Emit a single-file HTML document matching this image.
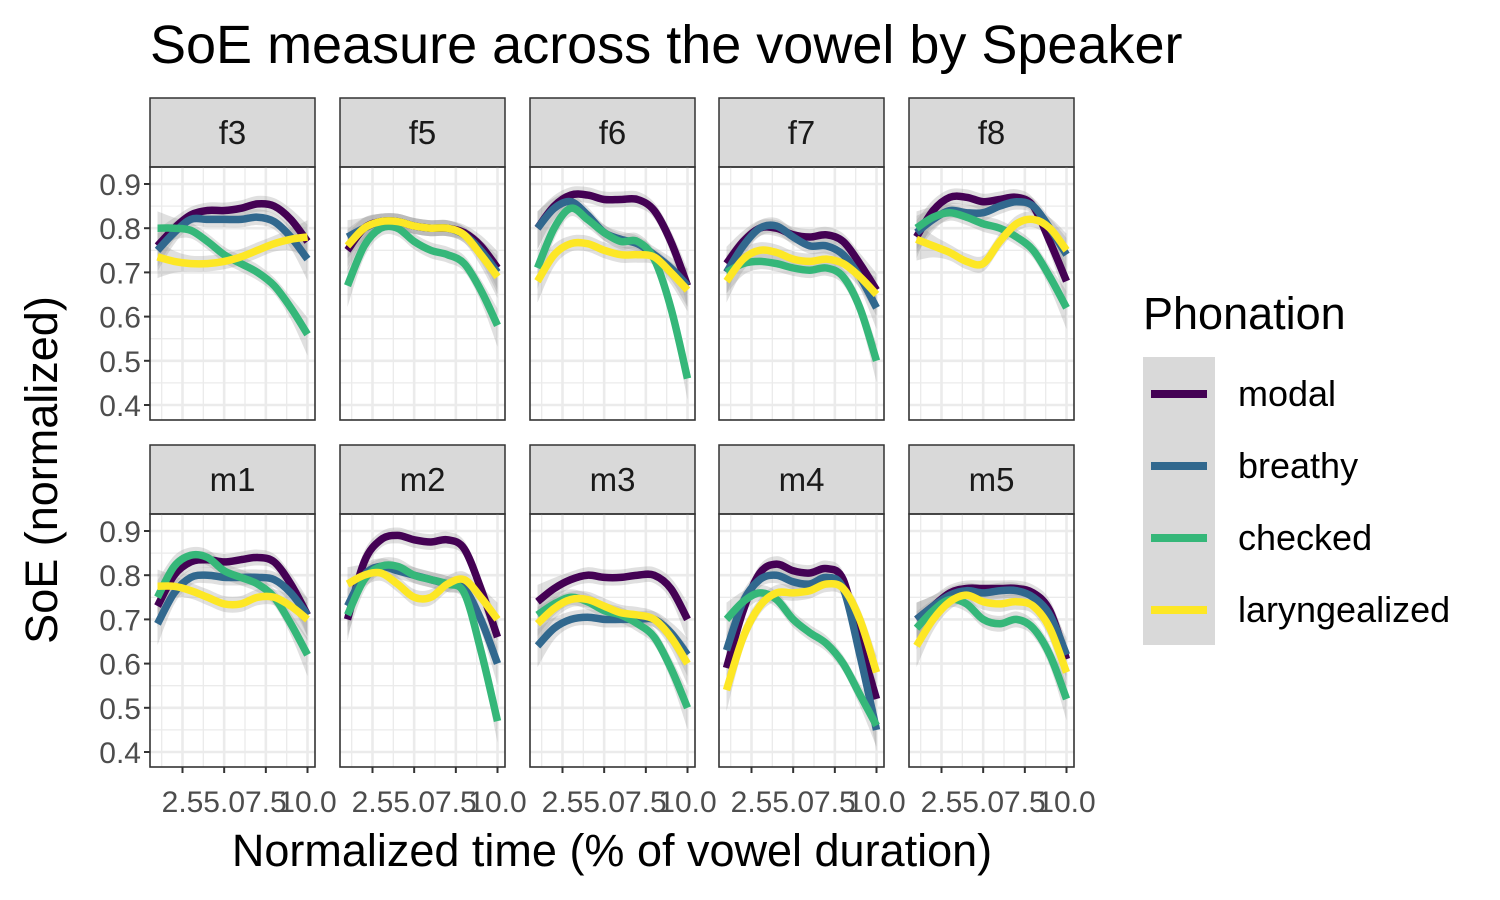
<!DOCTYPE html>
<html><head><meta charset="utf-8"><style>
body{margin:0;background:#fff;}
svg{display:block;font-family:"Liberation Sans",sans-serif;}
</style></head><body>
<svg id="chart" width="1500" height="900" viewBox="0 0 1500 900">
<text x="150" y="63" font-size="54" fill="#000">SoE measure across the vowel by Speaker</text>
<text x="612" y="866" font-size="45" text-anchor="middle" fill="#000">Normalized time (% of vowel duration)</text>
<text transform="translate(57,470) rotate(-90)" font-size="45" text-anchor="middle" fill="#000">SoE (normalized)</text>
<g id="panels"></g>
<g>
<text x="1143" y="329" font-size="45" fill="#000">Phonation</text>
<rect x="1143" y="357" width="72" height="288" fill="#d9d9d9"/>
<line x1="1151" x2="1207" y1="394" y2="394" stroke="#440154" stroke-width="8"/>
<line x1="1151" x2="1207" y1="466" y2="466" stroke="#31688e" stroke-width="8"/>
<line x1="1151" x2="1207" y1="538" y2="538" stroke="#35b779" stroke-width="8"/>
<line x1="1151" x2="1207" y1="610" y2="610" stroke="#fde725" stroke-width="8"/>
<text x="1238" y="406" font-size="36" fill="#000">modal</text>
<text x="1238" y="478" font-size="36" fill="#000">breathy</text>
<text x="1238" y="550" font-size="36" fill="#000">checked</text>
<text x="1238" y="622" font-size="36" fill="#000">laryngealized</text>
</g>
</svg>
<script>
const speakers = ["f3","f5","f6","f7","f8","m1","m2","m3","m4","m5"];
const timePoints = [1,2,3,4,5,6,7,8,9,10];
const phonations = ["modal","breathy","checked","laryngealized"];
const yTicks = [0.4,0.5,0.6,0.7,0.8,0.9];
const xTicks = [2.5,5.0,7.5,10.0];
const xTickLabels = ["2.5","5.0","7.5","10.0"];
const modal = {
 f3:[0.76,0.80,0.83,0.84,0.84,0.845,0.855,0.85,0.82,0.77],
 f5:[0.75,0.80,0.815,0.815,0.805,0.80,0.80,0.79,0.76,0.71],
 f6:[0.80,0.85,0.875,0.875,0.865,0.865,0.865,0.84,0.77,0.67],
 f7:[0.72,0.77,0.80,0.80,0.785,0.78,0.785,0.77,0.72,0.66],
 f8:[0.78,0.84,0.87,0.87,0.86,0.865,0.87,0.85,0.77,0.68],
 m1:[0.73,0.80,0.83,0.835,0.83,0.835,0.84,0.83,0.78,0.71],
 m2:[0.70,0.83,0.88,0.89,0.88,0.875,0.88,0.86,0.77,0.66],
 m3:[0.74,0.77,0.79,0.80,0.795,0.795,0.80,0.80,0.77,0.70],
 m4:[0.59,0.72,0.805,0.825,0.81,0.805,0.815,0.79,0.65,0.52],
 m5:[0.70,0.73,0.76,0.77,0.77,0.77,0.77,0.76,0.72,0.61]};
const breathy = {
 f3:[0.75,0.79,0.82,0.82,0.82,0.82,0.825,0.815,0.78,0.73],
 f5:[0.78,0.80,0.815,0.815,0.805,0.80,0.80,0.785,0.75,0.70],
 f6:[0.80,0.845,0.86,0.83,0.79,0.775,0.765,0.74,0.71,0.67],
 f7:[0.70,0.76,0.80,0.805,0.78,0.76,0.76,0.74,0.69,0.62],
 f8:[0.79,0.82,0.84,0.835,0.835,0.85,0.86,0.85,0.80,0.74],
 m1:[0.69,0.76,0.795,0.80,0.795,0.795,0.795,0.79,0.76,0.71],
 m2:[0.73,0.80,0.82,0.81,0.80,0.79,0.78,0.77,0.70,0.60],
 m3:[0.64,0.68,0.70,0.705,0.70,0.70,0.70,0.70,0.67,0.62],
 m4:[0.63,0.74,0.79,0.80,0.785,0.78,0.795,0.77,0.62,0.45],
 m5:[0.70,0.73,0.755,0.765,0.76,0.765,0.765,0.75,0.71,0.62]};
const checked = {
 f3:[0.80,0.80,0.795,0.77,0.74,0.72,0.70,0.67,0.62,0.56],
 f5:[0.67,0.76,0.80,0.80,0.77,0.75,0.74,0.72,0.66,0.58],
 f6:[0.71,0.80,0.845,0.82,0.79,0.77,0.77,0.73,0.62,0.46],
 f7:[0.70,0.72,0.725,0.72,0.71,0.705,0.71,0.69,0.62,0.50],
 f8:[0.80,0.825,0.835,0.825,0.81,0.80,0.78,0.75,0.69,0.62],
 m1:[0.75,0.82,0.845,0.84,0.81,0.795,0.78,0.75,0.69,0.62],
 m2:[0.71,0.79,0.82,0.82,0.80,0.79,0.78,0.76,0.63,0.47],
 m3:[0.71,0.735,0.75,0.74,0.72,0.71,0.69,0.66,0.59,0.50],
 m4:[0.70,0.74,0.76,0.745,0.70,0.67,0.645,0.60,0.53,0.46],
 m5:[0.68,0.72,0.745,0.735,0.70,0.69,0.70,0.68,0.62,0.52]};
const laryngealized = {
 f3:[0.735,0.725,0.72,0.72,0.725,0.735,0.75,0.765,0.775,0.78],
 f5:[0.76,0.80,0.815,0.815,0.805,0.80,0.80,0.785,0.74,0.69],
 f6:[0.68,0.74,0.765,0.765,0.75,0.74,0.74,0.735,0.70,0.66],
 f7:[0.68,0.73,0.75,0.745,0.73,0.725,0.73,0.72,0.69,0.65],
 f8:[0.775,0.76,0.745,0.725,0.72,0.77,0.81,0.82,0.80,0.75],
 m1:[0.775,0.775,0.765,0.75,0.735,0.735,0.75,0.75,0.73,0.70],
 m2:[0.78,0.80,0.805,0.78,0.75,0.75,0.78,0.79,0.75,0.70],
 m3:[0.69,0.725,0.745,0.745,0.73,0.715,0.71,0.70,0.66,0.60],
 m4:[0.54,0.66,0.73,0.76,0.76,0.765,0.78,0.77,0.70,0.58],
 m5:[0.64,0.70,0.74,0.755,0.74,0.735,0.74,0.73,0.68,0.58]};
const seriesData = {modal, breathy, checked, laryngealized};
const colors = {modal:"#440154",breathy:"#31688e",checked:"#35b779",laryngealized:"#fde725"};

const NS="http://www.w3.org/2000/svg";
const root=document.getElementById('panels');
const panelLefts=[150,340,530,719,909];
const PW=165;
const rows=[{stripTop:98,top:167,bottom:420},{stripTop:445,top:514,bottom:767}];
const xMin=0.55,xMax=10.45, yTop=0.9, yBot=0.4;
function mk(tag,attrs,parent){const e=document.createElementNS(NS,tag);for(const k in attrs)e.setAttribute(k,attrs[k]);parent.appendChild(e);return e;}
function smoothPath(pts){
 let d="M"+pts[0][0].toFixed(1)+","+pts[0][1].toFixed(1);
 for(let i=0;i<pts.length-1;i++){
  const p0=pts[i-1]||pts[i],p1=pts[i],p2=pts[i+1],p3=pts[i+2]||p2;
  const c1=[p1[0]+(p2[0]-p0[0])/6,p1[1]+(p2[1]-p0[1])/6];
  const c2=[p2[0]-(p3[0]-p1[0])/6,p2[1]-(p3[1]-p1[1])/6];
  d+="C"+c1[0].toFixed(1)+","+c1[1].toFixed(1)+" "+c2[0].toFixed(1)+","+c2[1].toFixed(1)+" "+p2[0].toFixed(1)+","+p2[1].toFixed(1);
 }
 return d;
}
speakers.forEach((sp,i)=>{
 const r=rows[Math.floor(i/5)], L=panelLefts[i%5];
 const xS=v=>L+(v-xMin)/(xMax-xMin)*PW;
 const y09=r.top+17, y04=r.bottom-15;
 const yS=v=>y09+(yTop-v)/(yTop-yBot)*(y04-y09);
 const g=mk('g',{},root);
 
 
 const strip=mk('rect',{x:L,y:r.stripTop,width:PW,height:r.top-r.stripTop,fill:'#d9d9d9',stroke:'#333','stroke-width':1.5},g);
 
 
 const st=mk('text',{x:L+PW/2,y:r.stripTop+46,'font-size':33,'text-anchor':'middle',fill:'#1a1a1a'},g);
 st.textContent=sp;
 
 
 const clipId='clip'+i;
 const cp=mk('clipPath',{id:clipId},g);mk('rect',{x:L,y:r.top,width:PW,height:r.bottom-r.top},cp);
 const gg=mk('g',{'clip-path':'url(#'+clipId+')'},g);
 for(let v=0.35;v<=0.951;v+=0.1){const y=yS(v);mk('line',{x1:L,x2:L+PW,y1:y,y2:y,stroke:'#ebebeb','stroke-width':1.3},gg);}
 for(let v=1.25;v<=11;v+=2.5){const x=xS(v);mk('line',{x1:x,x2:x,y1:r.top,y2:r.bottom,stroke:'#ebebeb','stroke-width':1.3},gg);}
 yTicks.forEach(v=>{const y=yS(v);mk('line',{x1:L,x2:L+PW,y1:y,y2:y,stroke:'#ebebeb','stroke-width':2.6},gg);});
 xTicks.forEach(v=>{const x=xS(v);mk('line',{x1:x,x2:x,y1:r.top,y2:r.bottom,stroke:'#ebebeb','stroke-width':2.6},gg);});
 phonations.forEach(ph=>{
  const vals=seriesData[ph][sp];
  const up=timePoints.map((t,k)=>{const w=0.018+ (k===0||k===9?0.02:(k===1||k===8?0.006:0));return [xS(t),yS(vals[k]+w)];});
  const lo=timePoints.map((t,k)=>{const w=0.018+ (k===0||k===9?0.03:(k===1||k===8?0.008:0));return [xS(t),yS(vals[k]-w)];}).reverse();
  const d=smoothPath(up)+"L"+smoothPath(lo).slice(1)+"Z";
  const rb=mk('path',{d:d,fill:'#999','fill-opacity':0.3},gg);
  
  
 });
 phonations.forEach(ph=>{
  const vals=seriesData[ph][sp];
  const pts=timePoints.map((t,k)=>[xS(t),yS(vals[k])]);
  const ln=mk('path',{d:smoothPath(pts),fill:'none',stroke:colors[ph],'stroke-width':7.5},gg);
  
  
 });
 mk('rect',{x:L,y:r.top,width:PW,height:r.bottom-r.top,fill:'none',stroke:'#333','stroke-width':1.6},g);
 if(i%5===0){
  yTicks.forEach(v=>{const y=yS(v);
   mk('line',{x1:L-6,x2:L,y1:y,y2:y,stroke:'#333','stroke-width':2},g);
   const t=mk('text',{x:L-9,y:y+11,'font-size':30,'text-anchor':'end',fill:'#4d4d4d'},g);
   t.textContent=v.toFixed(1);
   
   
  });
 }
 if(i>=5){
  xTicks.forEach((v,k)=>{const x=xS(v);
   mk('line',{x1:x,x2:x,y1:r.bottom,y2:r.bottom+6,stroke:'#333','stroke-width':2},g);
   const t=mk('text',{x:x,y:r.bottom+45,'font-size':30,'text-anchor':'middle',fill:'#4d4d4d'},g);
   t.textContent=xTickLabels[k];
   
   
  });
 }
});
</script>
</body></html>
